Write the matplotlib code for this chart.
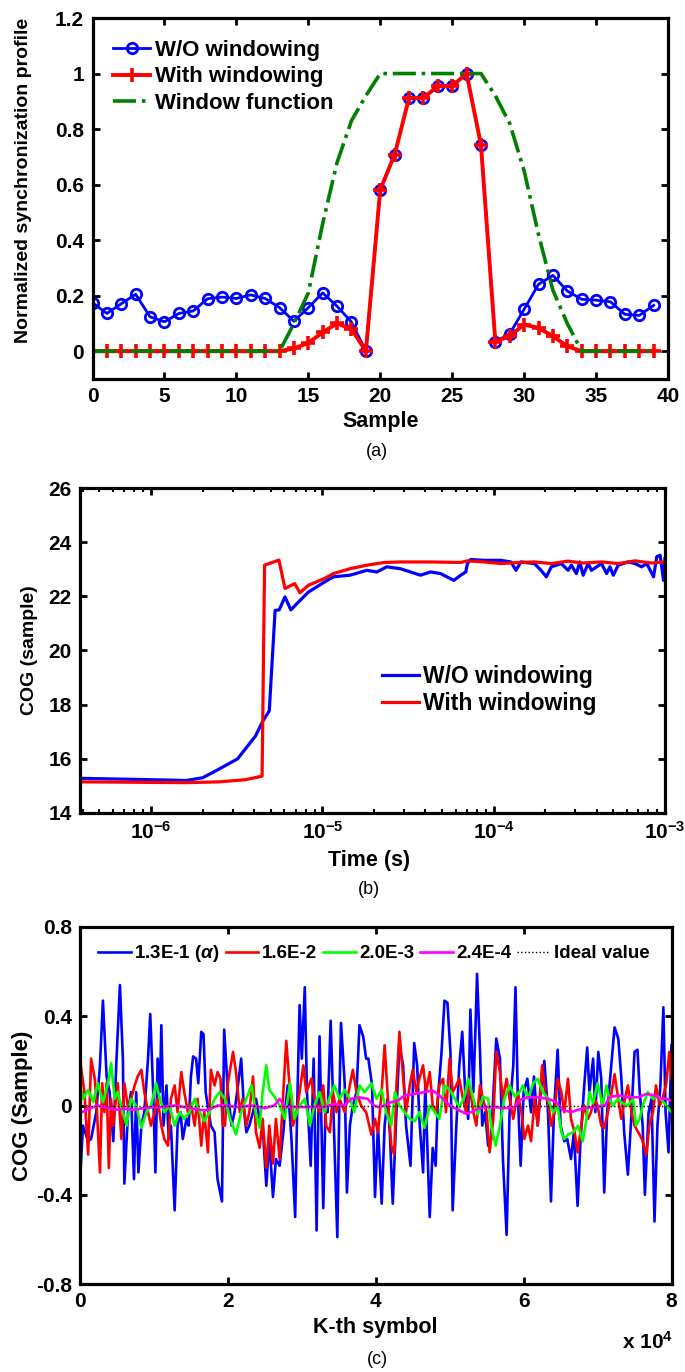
import matplotlib
matplotlib.use('Agg')
import matplotlib.pyplot as plt
from matplotlib.ticker import LogLocator, NullFormatter, FixedLocator

plt.rcParams['font.family'] = ['Liberation Sans', 'DejaVu Sans']
plt.rcParams['font.weight'] = 'bold'
plt.rcParams['mathtext.fontset'] = 'custom'
plt.rcParams['mathtext.rm'] = 'Liberation Sans:bold'
plt.rcParams['mathtext.bf'] = 'Liberation Sans:bold'
plt.rcParams['mathtext.it'] = 'Liberation Sans:bold:italic'

# ---------------- (a) data ----------------
samples = list(range(40))
a_without = [0.175, 0.136, 0.171, 0.205, 0.124, 0.106, 0.136, 0.145, 0.189, 0.195,
             0.190, 0.203, 0.190, 0.157, 0.108, 0.157, 0.210, 0.162, 0.105, 0.0,
             0.582, 0.708, 0.912, 0.912, 0.955, 0.955, 1.0, 0.743, 0.034, 0.063,
             0.151, 0.241, 0.273, 0.217, 0.187, 0.184, 0.178, 0.133, 0.129, 0.165]
a_with = [0, 0, 0, 0, 0, 0, 0, 0, 0, 0,
          0, 0, 0, 0, 0.01, 0.03, 0.068, 0.10, 0.08, 0.0,
          0.582, 0.708, 0.912, 0.912, 0.955, 0.955, 1.0, 0.743, 0.034, 0.055,
          0.096, 0.084, 0.054, 0.018, 0, 0, 0, 0, 0, 0]
a_window = [0, 0, 0, 0, 0, 0, 0, 0, 0, 0,
            0, 0, 0, 0, 0.10, 0.21, 0.46, 0.68, 0.83, 0.92,
            1.0, 1.0, 1.0, 1.0, 1.0, 1.0, 1.0, 1.0, 0.92, 0.82,
            0.65, 0.42, 0.22, 0.10, 0, 0, 0, 0, 0, 0]
a_yticks = [0, 0.2, 0.4, 0.6, 0.8, 1.0, 1.2]
a_yticklabels = ['0', '0.2', '0.4', '0.6', '0.8', '1', '1.2']
a_xticks = [0, 5, 10, 15, 20, 25, 30, 35, 40]

# ---------------- (b) data ----------------
b_without = [(3.85e-7, 15.28), (1.0e-6, 15.23), (1.6e-6, 15.2), (2.0e-6, 15.3), (2.46e-6, 15.6),
             (3.2e-6, 16.0), (4.07e-6, 16.84), (4.5e-6, 17.4), (4.9e-6, 17.77), (5.3e-6, 21.48),
             (5.6e-6, 21.5), (6.05e-6, 21.98), (6.55e-6, 21.5), (7.1e-6, 21.73), (8.3e-6, 22.16),
             (1.03e-5, 22.53), (1.16e-5, 22.72), (1.45e-5, 22.78), (1.82e-5, 22.96), (2.08e-5, 22.9),
             (2.38e-5, 23.09), (2.85e-5, 23.02), (3.27e-5, 22.9), (3.74e-5, 22.78), (4.28e-5, 22.9),
             (4.9e-5, 22.84), (5.6e-5, 22.65), (5.86e-5, 22.59), (6.42e-5, 22.78), (6.87e-5, 22.9),
             (7.03e-5, 23.21), (7.35e-5, 23.36), (8.8e-5, 23.33), (1.1e-4, 23.33), (1.26e-4, 23.27),
             (1.35e-4, 22.96), (1.44e-4, 23.27), (1.73e-4, 23.21), (1.89e-4, 22.96), (2.03e-4, 22.72),
             (2.17e-4, 23.09), (2.48e-4, 23.21), (2.72e-4, 22.96), (2.84e-4, 23.15), (3.04e-4, 22.84),
             (3.18e-4, 23.27), (3.33e-4, 22.78), (3.56e-4, 23.21), (3.72e-4, 22.96), (4.26e-4, 23.21),
             (4.56e-4, 22.84), (4.77e-4, 23.09), (4.99e-4, 22.78), (5.33e-4, 23.15), (6.1e-4, 23.27),
             (6.68e-4, 23.21), (7.3e-4, 23.09), (7.83e-4, 23.21), (8.57e-4, 22.72), (8.95e-4, 23.46),
             (9.37e-4, 23.52), (9.8e-4, 22.59), (1.0e-3, 23.4)]
b_with = [(3.85e-7, 15.15), (1.6e-6, 15.12), (2.5e-6, 15.15), (3.56e-6, 15.23), (4.45e-6, 15.36),
          (4.6e-6, 23.15), (5.58e-6, 23.34), (6.05e-6, 22.29), (6.9e-6, 22.47), (7.4e-6, 22.13),
          (8.3e-6, 22.41), (1.03e-5, 22.66), (1.16e-5, 22.84), (1.45e-5, 23.02), (1.82e-5, 23.15),
          (2.3e-5, 23.25), (2.85e-5, 23.27), (4.3e-5, 23.27), (6.4e-5, 23.25), (7.03e-5, 23.31),
          (8.8e-5, 23.27), (1.1e-4, 23.21), (1.4e-4, 23.25), (1.73e-4, 23.27), (2.17e-4, 23.21),
          (2.72e-4, 23.3), (3.3e-4, 23.23), (4.26e-4, 23.27), (5.33e-4, 23.21), (6.68e-4, 23.31),
          (8.3e-4, 23.23), (1.0e-3, 23.27)]
b_yticks = [14, 16, 18, 20, 22, 24, 26]
b_xticks = [1e-6, 1e-5, 1e-4, 1e-3]
b_xticklabels = [r'$\mathbf{10^{-6}}$', r'$\mathbf{10^{-5}}$', r'$\mathbf{10^{-4}}$', r'$\mathbf{10^{-3}}$']

# ---------------- (c) data (K in units of 1e4) ----------------
c_blue = [(0.00, -0.34), (0.04, -0.09), (0.11, -0.16), (0.15, -0.15), (0.22, -0.03), (0.27, 0.18),
          (0.31, 0.47), (0.36, 0.13), (0.40, 0.06), (0.45, -0.16), (0.49, 0.18), (0.54, 0.54),
          (0.58, 0.21), (0.60, -0.35), (0.65, -0.03), (0.69, 0.06), (0.73, -0.33), (0.76, 0.06),
          (0.79, -0.30), (0.83, -0.09), (0.87, -0.03), (0.92, 0.21), (0.95, 0.41), (0.99, 0.06),
          (1.02, -0.30), (1.05, 0.21), (1.08, 0.06), (1.10, 0.36), (1.13, -0.09), (1.17, 0.09),
          (1.20, -0.15), (1.23, -0.09), (1.28, -0.47), (1.32, -0.09), (1.36, -0.03), (1.39, -0.15),
          (1.44, -0.06), (1.47, -0.09), (1.50, 0.13), (1.53, 0.22), (1.57, 0.21), (1.60, 0.10),
          (1.64, 0.33), (1.67, 0.32), (1.70, 0.06), (1.74, -0.03), (1.77, -0.09), (1.82, -0.12),
          (1.86, -0.33), (1.92, -0.43), (1.95, 0.34),
          (2.00, 0.06), (2.05, -0.09), (2.09, -0.03), (2.14, 0.10), (2.18, 0.21), (2.22, -0.03),
          (2.25, -0.12), (2.29, -0.09), (2.34, -0.03), (2.38, 0.03), (2.43, -0.06), (2.47, -0.09),
          (2.52, -0.36), (2.56, -0.15), (2.61, -0.41), (2.65, -0.24), (2.70, -0.27), (2.75, -0.12),
          (2.78, 0.0), (2.81, 0.09), (2.86, -0.15), (2.91, -0.50), (2.94, 0.03), (2.97, 0.45),
          (3.00, 0.21), (3.04, 0.53), (3.07, 0.06), (3.12, -0.27), (3.16, 0.21), (3.20, -0.56),
          (3.24, 0.31), (3.29, -0.46), (3.32, -0.03), (3.35, -0.03), (3.39, 0.38), (3.42, 0.06),
          (3.48, -0.59), (3.51, 0.06), (3.53, 0.37), (3.58, 0.10), (3.61, -0.39), (3.65, -0.09),
          (3.69, 0.0), (3.74, 0.06), (3.78, 0.36), (3.83, 0.31), (3.87, 0.21), (3.90, 0.21),
          (3.95, 0.09), (3.99, -0.41),
          (4.03, -0.09), (4.08, -0.44), (4.12, -0.09), (4.16, 0.03), (4.19, -0.12), (4.23, -0.44),
          (4.28, -0.03), (4.32, 0.27), (4.37, 0.18), (4.41, -0.09), (4.47, -0.27), (4.52, 0.28),
          (4.56, 0.18), (4.59, -0.06), (4.64, -0.30), (4.67, 0.09), (4.73, -0.50), (4.77, -0.19),
          (4.81, -0.27), (4.84, 0.03), (4.89, 0.24), (4.93, 0.47), (4.97, 0.46), (5.01, 0.24),
          (5.04, -0.47), (5.09, -0.09), (5.13, 0.18), (5.17, 0.33), (5.21, 0.06), (5.25, -0.06),
          (5.28, 0.43), (5.32, 0.06), (5.35, 0.36), (5.37, 0.59), (5.41, 0.24), (5.44, -0.09),
          (5.48, -0.03), (5.52, -0.18), (5.56, -0.15), (5.63, 0.30), (5.68, 0.21), (5.72, -0.24),
          (5.77, -0.58), (5.81, -0.03), (5.86, 0.18), (5.89, 0.53), (5.92, 0.06),
          (5.96, -0.27), (6.00, 0.06), (6.05, 0.12), (6.10, -0.03), (6.14, 0.13), (6.19, -0.09),
          (6.24, 0.09), (6.28, 0.20), (6.33, -0.03), (6.37, -0.43), (6.41, -0.03), (6.46, 0.25),
          (6.50, -0.09), (6.55, -0.16), (6.59, -0.15), (6.64, -0.24), (6.68, -0.12), (6.73, -0.45),
          (6.77, -0.15), (6.82, 0.09), (6.86, 0.26), (6.89, 0.06), (6.94, 0.21), (6.97, -0.03),
          (7.01, 0.24), (7.05, 0.12), (7.09, -0.39), (7.13, -0.03), (7.18, 0.16), (7.23, 0.35),
          (7.28, 0.30), (7.32, 0.13), (7.36, -0.12), (7.41, -0.31), (7.46, -0.03), (7.50, 0.24),
          (7.54, 0.25), (7.57, 0.06), (7.61, -0.09), (7.64, -0.40), (7.69, -0.03), (7.73, 0.03),
          (7.77, -0.52), (7.81, -0.09), (7.85, 0.09), (7.89, 0.44), (7.92, -0.03), (7.96, -0.21),
          (8.00, 0.27)]
c_red = [(0.01, 0.18), (0.06, 0.06), (0.11, -0.22), (0.15, 0.21), (0.20, 0.12), (0.23, -0.03),
         (0.27, -0.30), (0.30, 0.10), (0.33, -0.03), (0.36, 0.10), (0.39, -0.28), (0.42, 0.03),
         (0.45, -0.09), (0.48, 0.01), (0.51, 0.10), (0.56, -0.15), (0.60, 0.10), (0.65, -0.01),
         (0.69, 0.03), (0.74, 0.09), (0.78, 0.13), (0.83, 0.16), (0.87, 0.06), (0.92, -0.03),
         (0.96, -0.09), (1.01, -0.03), (1.05, 0.03), (1.10, -0.09), (1.14, -0.15), (1.19, -0.18),
         (1.23, 0.03), (1.28, 0.09), (1.32, -0.03), (1.37, 0.15), (1.41, 0.06), (1.46, -0.03),
         (1.50, 0.01), (1.55, -0.09), (1.59, 0.03), (1.64, -0.18), (1.68, -0.03), (1.73, -0.21),
         (1.77, 0.16), (1.82, 0.09), (1.86, 0.15), (1.90, 0.12), (1.93, -0.09),
         (1.96, -0.09), (2.00, 0.10), (2.07, 0.24), (2.11, 0.15), (2.16, -0.03), (2.20, 0.03),
         (2.25, -0.09), (2.29, -0.03), (2.34, 0.13), (2.38, -0.12), (2.43, -0.19), (2.47, -0.06),
         (2.52, -0.28), (2.56, -0.09), (2.61, -0.26), (2.65, -0.06), (2.70, -0.24), (2.75, 0.06),
         (2.79, 0.29), (2.84, 0.06), (2.88, -0.09), (2.93, -0.03), (2.97, 0.06), (3.02, 0.18),
         (3.06, 0.06), (3.13, 0.12), (3.17, 0.03), (3.24, -0.03), (3.29, 0.09), (3.33, -0.09),
         (3.38, -0.12), (3.42, 0.06), (3.47, -0.03), (3.51, 0.03), (3.58, -0.03), (3.65, 0.09),
         (3.69, 0.16), (3.74, 0.06), (3.80, 0.0), (3.87, -0.03), (3.94, -0.13),
         (3.99, -0.06), (4.03, -0.12), (4.08, 0.06), (4.12, 0.27), (4.17, 0.0), (4.21, -0.18),
         (4.25, -0.22), (4.28, 0.09), (4.32, 0.33), (4.37, 0.13), (4.41, -0.03), (4.46, 0.09),
         (4.50, 0.16), (4.55, 0.06), (4.59, 0.12), (4.64, 0.18), (4.68, 0.06), (4.73, 0.15),
         (4.77, 0.0), (4.82, -0.03), (4.86, 0.09), (4.91, 0.12), (4.95, -0.03), (5.00, 0.21),
         (5.04, 0.06), (5.09, 0.09), (5.13, 0.12), (5.18, 0.03), (5.22, -0.03), (5.27, 0.09),
         (5.32, -0.03), (5.36, -0.09), (5.41, 0.09), (5.45, 0.03), (5.50, -0.03), (5.54, -0.21),
         (5.59, -0.06), (5.63, 0.24), (5.68, 0.15), (5.72, 0.03), (5.77, 0.12), (5.81, 0.03),
         (5.86, -0.06), (5.92, 0.06),
         (5.97, -0.03), (6.01, -0.15), (6.06, -0.09), (6.10, -0.16), (6.15, 0.03), (6.19, -0.09),
         (6.25, 0.18), (6.29, 0.06), (6.34, 0.0), (6.37, -0.09), (6.42, -0.03), (6.46, 0.12),
         (6.51, 0.06), (6.55, -0.03), (6.60, 0.12), (6.64, -0.06), (6.69, -0.12), (6.73, -0.21),
         (6.78, -0.09), (6.82, 0.0), (6.87, -0.06), (6.91, -0.03), (6.96, 0.03), (7.00, 0.0),
         (7.05, -0.09), (7.09, -0.10), (7.14, -0.03), (7.19, 0.06), (7.23, 0.14), (7.28, 0.03),
         (7.32, -0.06), (7.37, 0.03), (7.41, 0.09), (7.46, -0.03), (7.50, -0.09), (7.55, -0.12),
         (7.60, -0.15), (7.66, -0.22), (7.70, -0.09), (7.75, -0.03), (7.79, 0.09), (7.84, 0.0),
         (7.88, 0.03), (7.93, 0.10), (7.97, 0.24), (8.00, 0.12)]
c_green = [(0.00, 0.09), (0.04, 0.03), (0.11, 0.07), (0.18, 0.015), (0.24, 0.10), (0.31, 0.015),
           (0.38, 0.10), (0.42, 0.19), (0.47, 0.03), (0.51, 0.06), (0.58, -0.03), (0.63, -0.09),
           (0.69, 0.03), (0.76, 0.0), (0.83, -0.10), (0.90, -0.03), (0.96, 0.0), (1.03, 0.10),
           (1.08, 0.03), (1.14, -0.03), (1.21, 0.0), (1.28, -0.09), (1.35, -0.03), (1.41, -0.06),
           (1.48, -0.03), (1.55, 0.03), (1.62, -0.03), (1.68, -0.07), (1.75, -0.03), (1.82, 0.03),
           (1.89, 0.06),
           (1.96, 0.03), (2.03, -0.06), (2.11, -0.13), (2.18, -0.03), (2.25, 0.03), (2.32, 0.09),
           (2.38, -0.04), (2.43, -0.10), (2.47, 0.06), (2.52, 0.18), (2.56, 0.07), (2.63, 0.04),
           (2.70, 0.0), (2.77, -0.06), (2.84, 0.10), (2.90, -0.06), (2.97, 0.0), (3.04, 0.03),
           (3.11, -0.09), (3.17, 0.0), (3.24, 0.06), (3.31, -0.03), (3.38, 0.04), (3.44, 0.09),
           (3.51, 0.03), (3.58, 0.07), (3.65, 0.03), (3.71, -0.03), (3.78, 0.09), (3.85, 0.06),
           (3.94, 0.10),
           (4.01, 0.03), (4.08, 0.07), (4.14, -0.03), (4.21, -0.09), (4.26, 0.06), (4.32, 0.0),
           (4.39, -0.03), (4.46, -0.06), (4.53, -0.07), (4.59, -0.03), (4.66, -0.10), (4.73, 0.0),
           (4.80, -0.03), (4.86, -0.06), (4.93, 0.09), (5.00, 0.07), (5.07, 0.03), (5.13, -0.01),
           (5.20, 0.04), (5.25, 0.12), (5.32, 0.03), (5.38, -0.04), (5.45, 0.04), (5.52, 0.03),
           (5.56, -0.09), (5.62, -0.18), (5.68, -0.09), (5.74, 0.03), (5.81, 0.09), (5.88, 0.04),
           (5.945, 0.06),
           (5.99, 0.09), (6.06, 0.03), (6.13, 0.10), (6.19, 0.12), (6.26, 0.06), (6.33, 0.03),
           (6.40, -0.03), (6.46, 0.0), (6.51, -0.12), (6.55, -0.15), (6.60, -0.13), (6.67, -0.12),
           (6.735, -0.09), (6.80, -0.16), (6.85, -0.06), (6.89, 0.06), (6.94, 0.01), (7.00, 0.10),
           (7.07, 0.0), (7.12, 0.09), (7.16, 0.03), (7.21, 0.0), (7.275, 0.03), (7.34, 0.01),
           (7.41, 0.0), (7.48, 0.03), (7.52, -0.09), (7.57, -0.06), (7.61, 0.0), (7.68, 0.06),
           (7.75, 0.03), (7.82, 0.04), (7.905, 0.01), (8.00, -0.03)]
c_magenta = [(0.00, -0.035), (0.11, -0.015), (0.24, 0.0), (0.38, -0.01), (0.47, -0.02), (0.60, -0.015),
             (0.74, -0.02), (0.87, -0.01), (1.01, -0.007), (1.14, -0.007), (1.28, 0.0), (1.41, -0.007),
             (1.55, -0.015), (1.68, -0.022), (1.77, -0.015), (1.86, 0.0), (1.96, 0.0), (2.14, -0.007),
             (2.32, 0.0), (2.50, -0.012), (2.63, 0.0), (2.70, 0.03), (2.77, -0.007), (3.31, -0.007),
             (3.44, 0.007), (3.58, 0.0), (3.67, 0.03), (3.76, 0.037), (3.89, 0.03), (3.97, 0.0),
             (4.03, -0.007), (4.12, 0.0), (4.21, 0.015), (4.30, 0.022), (4.39, 0.045), (4.53, 0.052),
             (4.66, 0.06), (4.77, 0.067), (4.86, 0.045), (4.95, 0.015), (5.04, -0.007), (5.13, -0.022),
             (5.22, -0.037), (5.29, -0.03), (5.38, -0.015), (5.47, -0.007), (5.61, -0.007), (5.74, -0.012),
             (5.88, -0.007), (5.95, 0.025), (6.06, 0.037), (6.19, 0.037), (6.33, 0.03), (6.44, 0.015),
             (6.53, -0.02), (6.64, -0.03), (6.73, -0.02), (6.82, -0.012), (6.96, -0.007), (7.10, 0.0),
             (7.16, 0.037), (7.28, 0.045), (7.41, 0.037), (7.55, 0.037), (7.66, 0.052), (7.77, 0.045),
             (7.86, 0.03), (7.93, 0.03), (8.00, 0.022)]
c_ideal = [(0.0, 0.0), (8.0, 0.0)]
c_labels = [r'1.3E-1 ($\alpha$)', '1.6E-2', '2.0E-3', '2.4E-4', 'Ideal value']
c_yticks = [-0.8, -0.4, 0, 0.4, 0.8]
c_yticklabels = ['-0.8', '-0.4', '0', '0.4', '0.8']
c_xticks = [0, 2, 4, 6, 8]

# ---------------- figure ----------------
W, H = 685, 1372
fig = plt.figure(figsize=(W / 100, H / 100), dpi=100)


def px_axes(l, t, r, b):
    return fig.add_axes([l / W, 1 - b / H, (r - l) / W, (b - t) / H])


def style(ax, size):
    for s in ax.spines.values():
        s.set_linewidth(2.3)
    ax.tick_params(which='major', direction='in', top=True, right=True, length=5,
                   width=2, labelsize=size, pad=6)


# ---- (a)
axa = px_axes(92.5, 18, 668, 379)
axa.plot(samples, a_without, '-o', color='#0000ff', lw=2, ms=7.5, mfc='none', mew=2,
         label='W/O windowing')
axa.plot(samples, a_with, '-+', color='#ff0000', lw=2.8, ms=10, mew=2.6, label='With windowing')
axa.plot(samples, a_window, '-.', color='#008000', lw=2.6, label='Window function')
axa.set_xlim(0, 40)
axa.set_ylim(-0.1, 1.2)
axa.set_xticks(a_xticks)
axa.set_yticks(a_yticks)
axa.set_yticklabels(a_yticklabels)
style(axa, 15)
axa.set_xlabel('Sample', fontsize=15.5, fontweight='bold')
axa.xaxis.set_label_coords(0.5, -0.088)
axa.set_ylabel('Normalized synchronization profile', fontsize=14, fontweight='bold')
axa.yaxis.set_label_coords(-0.105, 0.55)
axa.legend(loc='center left', bbox_to_anchor=(0.035, 0.837), frameon=False, fontsize=16,
           handlelength=1.7, handletextpad=0.2, labelspacing=0.25, borderpad=0,
           borderaxespad=0, numpoints=1, prop={'weight': 'bold', 'size': 16})
fig.text(377 / W, 1 - 452 / H, '(a)', ha='center', va='center', fontsize=13, fontweight='normal')

# ---- (b)
axb = px_axes(80, 488, 665, 813)
bx1, by1 = zip(*b_without)
bx2, by2 = zip(*b_with)
axb.plot(bx1, by1, color='#0000ff', lw=2.3, label='W/O windowing')
axb.plot(bx2, by2, color='#ff0000', lw=2.3, label='With windowing')
axb.set_xscale('log')
axb.set_xlim(3.85e-7, 1e-3)
axb.set_ylim(14, 26)
axb.set_yticks(b_yticks)
axb.xaxis.set_major_locator(FixedLocator(b_xticks))
axb.set_xticklabels(b_xticklabels)
axb.xaxis.set_minor_locator(LogLocator(base=10, subs=[2, 3, 4, 5, 6, 7, 8, 9], numticks=20))
axb.xaxis.set_minor_formatter(NullFormatter())
style(axb, 15)
axb.tick_params(which='minor', direction='in', top=True, right=True, length=3, width=1.5)
axb.set_xlabel('Time (s)', fontsize=15.5, fontweight='bold')
axb.xaxis.set_label_coords(0.494, -0.115)
axb.set_ylabel('COG (sample)', fontsize=14, fontweight='bold')
axb.yaxis.set_label_coords(-0.072, 0.5)
axb.legend(loc='center left', bbox_to_anchor=(0.516, 0.378), frameon=False,
           handlelength=1.6, handletextpad=0.2, labelspacing=0.2, borderpad=0,
           borderaxespad=0, prop={'weight': 'bold', 'size': 16.5})
fig.text(369 / W, 1 - 890 / H, '(b)', ha='center', va='center', fontsize=13, fontweight='normal')

# ---- (c)
axc = px_axes(80, 927, 671.5, 1284)
series = [(c_blue, '#0000ff'), (c_red, '#ff0000'), (c_green, '#00ff00'), (c_magenta, '#ff00ff')]
for (data, col), lab in zip(series, c_labels[:4]):
    xs, ys = zip(*data)
    axc.plot(xs, ys, color=col, lw=1.9, label=lab)
ix, iy = zip(*c_ideal)
axc.plot(ix, iy, ':', color='black', lw=1.0, label=c_labels[4])
axc.set_xlim(0, 8)
axc.set_ylim(-0.8, 0.8)
axc.set_xticks(c_xticks)
axc.set_yticks(c_yticks)
axc.set_yticklabels(c_yticklabels)
style(axc, 15)
axc.set_xlabel('K-th symbol', fontsize=15.5, fontweight='bold')
axc.xaxis.set_label_coords(0.499, -0.093)
axc.set_ylabel('COG (Sample)', fontsize=16, fontweight='bold')
axc.yaxis.set_label_coords(-0.079, 0.5)
axc.legend(loc='upper left', bbox_to_anchor=(0.03, 0.955), frameon=False, ncol=5,
           handlelength=1.75, handletextpad=0.2, columnspacing=0.3, borderpad=0,
           borderaxespad=0, prop={'weight': 'bold', 'size': 13.5})
fig.text(673 / W, 1 - 1342 / H, r'x 10$^{4}$', ha='right', va='center', fontsize=15,
         fontweight='bold')
fig.text(377 / W, 1 - 1360 / H, '(c)', ha='center', va='center', fontsize=13, fontweight='normal')

fig.savefig('out.png', dpi=100)
